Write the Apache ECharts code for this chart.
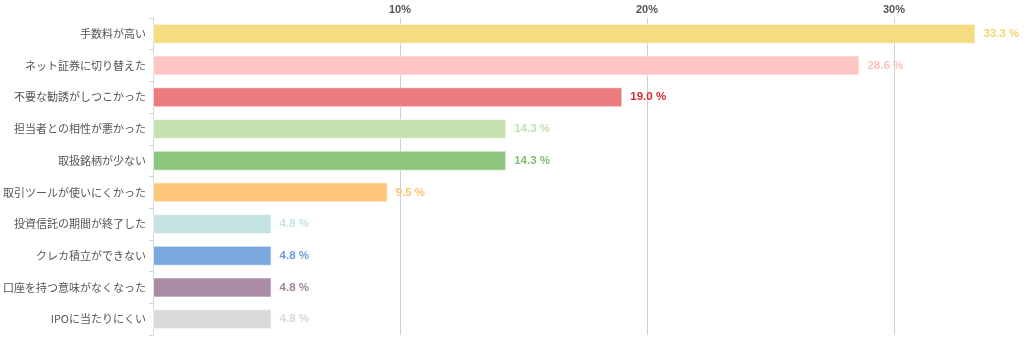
<!DOCTYPE html>
<html>
<head>
<meta charset="utf-8">
<script src="https://cdn.jsdelivr.net/npm/echarts@6/dist/echarts.min.js"></script>
<style>html,body{margin:0;padding:0;background:#fff;}#c{width:1024px;height:349px;}</style>
</head>
<body>
<div id="c"></div>
<script>
var categories = ['手数料が高い','ネット証券に切り替えた','不要な勧誘がしつこかった','担当者との相性が悪かった','取扱銘柄が少ない','取引ツールが使いにくかった','投資信託の期間が終了した','クレカ積立ができない','口座を持つ意味がなくなった','IPOに当たりにくい'];
var values = [33.3, 28.6, 19.0, 14.3, 14.3, 9.5, 4.8, 4.8, 4.8, 4.8];
var barColors = ['#F5DC82','#FFC5C5','#EB7B7E','#C5E2AE','#8CC57C','#FFC77C','#C5E2E2','#78A8DE','#AA8CA5','#DADADA'];
var labelColors = ['#F5D66E','#FFBFBF','#D9262C','#C5E2AE','#7FBD6E','#FFC16C','#C5E2E2','#6C9EDC','#A2849D','#D8D8D8'];
var tickValues = [10, 20, 30];

var numFont = '"Liberation Sans", Arial, sans-serif';
var chart = echarts.init(document.getElementById('c'));
chart.setOption({
  animation: false,
  textStyle: {fontFamily: '"Noto Sans CJK JP", "Noto Sans", sans-serif'},
  grid: {left: 153, right: 6.5, top: 18, bottom: 14, containLabel: false},
  xAxis: {
    type: 'value', position: 'top', min: 0, max: 35, interval: 10,
    axisLine: {show: false}, axisTick: {show: false},
    axisLabel: {
      color: '#555', fontSize: 11, fontWeight: 'bold', margin: 3, fontFamily: numFont,
      formatter: function (v) { return tickValues.indexOf(v) >= 0 ? v + '%' : ''; }
    },
    splitLine: {show: true, showMinLine: false, showMaxLine: false, lineStyle: {color: '#cfcfcf', width: 1}}
  },
  yAxis: {
    type: 'category', inverse: true, data: categories,
    axisLine: {show: true, lineStyle: {color: '#cdd6e6'}},
    axisTick: {show: true, length: 4, lineStyle: {color: '#cdd6e6'}},
    axisLabel: {color: '#555', fontSize: 11, margin: 7}
  },
  series: [{
    type: 'bar',
    data: values.map(function (v, i) {
      return {
        value: v,
        itemStyle: {color: barColors[i], borderColor: 'rgba(255,255,255,0.6)', borderWidth: 1},
        label: {color: labelColors[i]}
      };
    }),
    barWidth: 20,
    label: {
      show: true, position: 'right', distance: 8,
      fontSize: 11.5, fontWeight: 'bold', fontFamily: numFont,
      formatter: function (p) { return p.value.toFixed(1) + ' %'; }
    }
  }]
});
</script>
</body>
</html>
